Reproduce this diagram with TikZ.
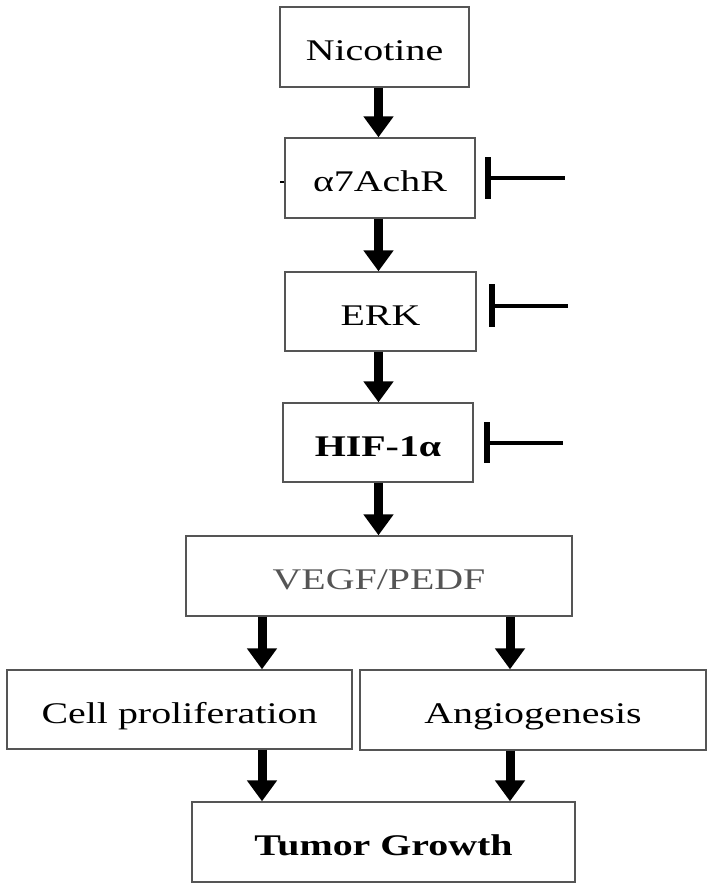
\documentclass[tikz,border=0pt]{standalone}
\usepackage{fontspec}
\setmainfont{Liberation Serif}
\usepackage{graphicx}
\usetikzlibrary{arrows.meta,calc}
\definecolor{boxgray}{HTML}{555555}
\definecolor{txtgray}{HTML}{555555}
\newcommand{\wtxt}[1]{\scalebox{1.33}[1]{#1}}
\begin{document}
\begin{tikzpicture}[x=1pt,y=-1pt,
  box/.style={draw=boxgray,line width=1.4pt,rectangle,inner sep=0pt,
    font=\fontsize{30}{36}\selectfont,text height=27pt,text depth=0pt},
  arr/.style={line width=9pt,-{Triangle[width=29pt,length=21pt]}},
  inhib/.style={line width=4.5pt},
  bar/.style={line width=6pt}]
\fill[white] (0,0) rectangle (713,889);
\useasboundingbox (0,0) rectangle (713,889);

\node[box,minimum width=189pt,minimum height=80pt] (nic) at (374.5,47) {\wtxt{Nicotine}};
\node[box,minimum width=190pt,minimum height=80pt] (a7) at (380,178) {\wtxt{α7AchR}};
\node[box,minimum width=191pt,minimum height=79pt] (erk) at (380.5,311.5) {\wtxt{ERK}};
\node[box,minimum width=190pt,minimum height=79pt] (hif) at (378,442.5) {\wtxt{\bfseries HIF-1α}};
\node[box,minimum width=386pt,minimum height=80pt,text=txtgray] (vegf) at (379,576) {\wtxt{VEGF/PEDF}};
\node[box,minimum width=345pt,minimum height=79pt] (cell) at (179.5,709.5) {\wtxt{Cell proliferation}};
\node[box,minimum width=346pt,minimum height=80pt] (ang) at (533,710) {\wtxt{Angiogenesis}};
\node[box,minimum width=383pt,minimum height=80pt] (tum) at (383.5,842) {\wtxt{\bfseries Tumor Growth}};

\coordinate (cx) at (378.5,0);
\coordinate (lx) at (262,0);
\coordinate (rx) at (510,0);

\draw[arr] (nic.south -| cx) -- (a7.north -| cx);
\draw[arr] (a7.south -| cx) -- (erk.north -| cx);
\draw[arr] (erk.south -| cx) -- (hif.north -| cx);
\draw[arr] (hif.south -| cx) -- (vegf.north -| cx);
\draw[arr] (vegf.south -| lx) -- (cell.north -| lx);
\draw[arr] (vegf.south -| rx) -- (ang.north -| rx);
\draw[arr] (cell.south -| lx) -- (tum.north -| lx);
\draw[arr] (ang.south -| rx) -- (tum.north -| rx);

% inhibitors
\coordinate (i1t) at (488,157); \coordinate (i1b) at (488,199);
\coordinate (i1s) at (488,178); \coordinate (i1e) at (565,178);
\draw[bar] (i1t) -- (i1b);
\draw[inhib] (i1s) -- (i1e);
\coordinate (i2t) at (491.5,284); \coordinate (i2b) at (491.5,327);
\coordinate (i2s) at (491.5,306); \coordinate (i2e) at (568,306);
\draw[bar] (i2t) -- (i2b);
\draw[inhib] (i2s) -- (i2e);
\coordinate (i3t) at (486.5,422); \coordinate (i3b) at (486.5,463);
\coordinate (i3s) at (486.5,443); \coordinate (i3e) at (563,443);
\draw[bar] (i3t) -- (i3b);
\draw[inhib] (i3s) -- (i3e);

% small stray tick left of alpha7 box
\draw[line width=2pt] ($(a7.west)+(0,4)$) -- ++(-4,0);
\end{tikzpicture}
\end{document}
